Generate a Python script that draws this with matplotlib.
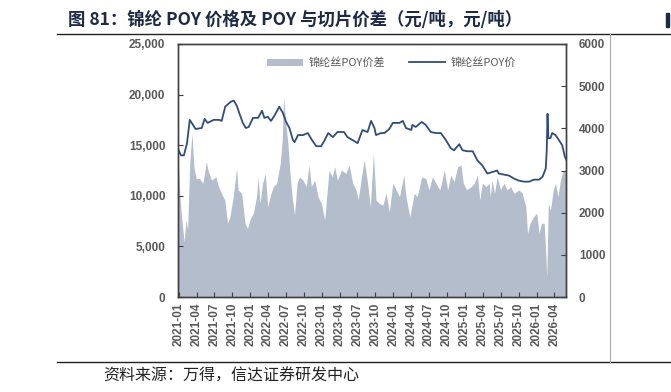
import matplotlib
matplotlib.use("Agg")
import matplotlib.pyplot as plt
import matplotlib.dates as mdates
from matplotlib.ticker import FuncFormatter, MultipleLocator
import pandas as pd

# 锦纶丝POY价 (左轴, 元/吨)
price_dates = [
    "2020-12-28", "2021-01-11", "2021-01-26", "2021-02-11", "2021-02-25", "2021-03-27",
    "2021-04-27", "2021-05-12", "2021-05-27", "2021-06-27", "2021-07-25", "2021-08-07",
    "2021-08-25", "2021-09-23", "2021-10-08", "2021-10-23", "2021-11-08", "2021-11-23",
    "2021-12-08", "2021-12-23", "2022-01-14", "2022-02-09", "2022-03-01", "2022-03-13",
    "2022-03-30", "2022-04-16", "2022-05-03", "2022-05-28", "2022-06-15", "2022-07-02",
    "2022-07-19", "2022-08-06", "2022-08-14", "2022-09-01", "2022-09-26", "2022-10-21",
    "2022-11-08", "2022-12-03", "2022-12-28", "2023-01-15", "2023-02-02", "2023-02-26",
    "2023-03-21", "2023-04-24", "2023-05-11", "2023-06-07", "2023-07-02", "2023-07-27",
    "2023-08-22", "2023-09-09", "2023-09-26", "2023-10-04", "2023-10-30", "2023-11-16",
    "2023-12-11", "2023-12-29", "2024-02-01", "2024-02-18", "2024-03-05", "2024-04-01",
    "2024-04-07", "2024-04-24", "2024-05-25", "2024-06-14", "2024-07-10", "2024-08-05",
    "2024-08-30", "2024-09-25", "2024-10-20", "2024-11-06", "2024-12-02", "2024-12-19",
    "2025-01-14", "2025-02-09", "2025-03-05", "2025-03-30", "2025-04-25", "2025-05-28",
    "2025-06-14", "2025-06-22", "2025-07-18", "2025-08-13", "2025-09-08", "2025-10-03",
    "2025-10-29", "2025-11-24", "2025-12-19", "2026-01-14", "2026-02-01", "2026-02-17",
    "2026-02-22", "2026-02-26", "2026-03-02", "2026-03-13", "2026-03-22", "2026-04-08",
    "2026-04-25", "2026-05-12", "2026-05-25", "2026-06-01",
]
price = [
    14600, 14000, 14000, 15200, 17500, 16600,
    16700, 17600, 17200, 17500, 17500, 17400,
    18800, 19300, 19400, 18900, 18000, 17200,
    16700, 16800, 17700, 17700, 18400, 17700,
    17800, 17400, 17900, 18800, 18200, 17300,
    16700, 15500, 15300, 16000, 16000, 16200,
    15600, 14900, 14900, 15500, 16200, 15800,
    16300, 16300, 15800, 15500, 15200, 16500,
    16300, 17400, 16700, 16000, 16200, 16200,
    16600, 17200, 17200, 17400, 16700, 16500,
    17000, 16800, 17300, 17000, 16300, 16200,
    16200, 15500, 14700, 14500, 15100, 14500,
    14400, 14400, 13500, 13000, 12200, 12400,
    12500, 12200, 12100, 12000, 11700, 11500,
    11400, 11400, 11600, 11600, 11900, 12700,
    14500, 18100, 15700, 15700, 16200, 16000,
    15500, 15000, 13900, 13600,
]

# 锦纶丝POY价差 (右轴, 元/吨)
spread_dates = [
    "2020-12-28", "2021-01-07", "2021-01-14", "2021-01-27", "2021-02-06", "2021-02-14",
    "2021-02-25", "2021-03-08", "2021-03-18", "2021-03-30", "2021-04-16", "2021-05-03",
    "2021-05-21", "2021-05-29", "2021-06-16", "2021-07-08", "2021-07-19", "2021-08-06",
    "2021-08-23", "2021-09-06", "2021-09-18", "2021-10-05", "2021-10-22", "2021-10-30",
    "2021-11-17", "2021-12-04", "2021-12-17", "2021-12-29", "2022-01-16", "2022-02-01",
    "2022-02-09", "2022-02-19", "2022-03-04", "2022-03-18", "2022-03-30", "2022-04-16",
    "2022-04-28", "2022-05-15", "2022-06-02", "2022-06-12", "2022-06-19", "2022-06-29",
    "2022-07-11", "2022-07-22", "2022-08-02", "2022-08-14", "2022-08-27", "2022-09-09",
    "2022-09-26", "2022-10-13", "2022-10-27", "2022-11-08", "2022-11-25", "2022-12-12",
    "2022-12-29", "2023-01-15", "2023-01-27", "2023-02-06", "2023-02-22", "2023-03-07",
    "2023-03-21", "2023-04-11", "2023-05-03", "2023-05-20", "2023-06-07", "2023-06-24",
    "2023-07-05", "2023-07-22", "2023-08-05", "2023-08-22", "2023-09-05", "2023-09-21",
    "2023-10-04", "2023-10-21", "2023-11-08", "2023-11-25", "2023-12-11", "2023-12-29",
    "2024-01-15", "2024-02-01", "2024-02-23", "2024-03-05", "2024-03-25", "2024-04-16",
    "2024-05-02", "2024-05-24", "2024-06-14", "2024-07-01", "2024-07-18", "2024-08-05",
    "2024-08-25", "2024-09-17", "2024-10-04", "2024-10-20", "2024-11-06", "2024-11-24",
    "2024-12-11", "2024-12-23", "2025-01-09", "2025-02-01", "2025-02-17", "2025-03-05",
    "2025-03-17", "2025-03-30", "2025-04-17", "2025-05-04", "2025-05-10", "2025-05-19",
    "2025-05-31", "2025-06-14", "2025-07-01", "2025-07-18", "2025-08-04", "2025-08-21",
    "2025-09-08", "2025-10-03", "2025-10-20", "2025-11-07", "2025-11-16", "2025-11-29",
    "2025-12-16", "2026-01-02", "2026-01-14", "2026-01-26", "2026-02-09", "2026-02-17",
    "2026-02-22", "2026-03-02", "2026-03-13", "2026-03-27", "2026-04-08", "2026-04-20",
    "2026-05-03", "2026-05-17", "2026-06-01",
]
spread = [
    3210, 2300, 1900, 1310, 1830, 1590,
    3180, 3880, 3090, 2810, 2810, 2700,
    3210, 3010, 2770, 2850, 2660, 2460,
    2300, 1750, 1900, 2380, 3050, 2540,
    2460, 1750, 1630, 1830, 1990, 2380,
    2850, 2220, 2700, 2930, 2140, 2460,
    2620, 2700, 3170, 3720, 4750, 4200,
    3650, 2930, 2380, 1950, 2700, 2850,
    2770, 2620, 3130, 2620, 2770, 2380,
    2220, 1830, 2460, 3010, 2850, 3090,
    2770, 3010, 2930, 3130, 2700, 2540,
    2300, 2850, 3250, 2700, 2140, 3410,
    2300, 2220, 2180, 2460, 2020, 2700,
    2540, 2380, 2890, 2380, 1900, 2460,
    2380, 2850, 2810, 2540, 2850, 2700,
    2540, 3010, 2540, 2890, 2730, 3090,
    3130, 2700, 2540, 2620, 2700, 2890,
    2300, 2700, 2620, 2700, 2380, 2770,
    2460, 2850, 2540, 2700, 2540, 2620,
    2460, 2540, 2460, 2140, 1510, 1750,
    1900, 1990, 1510, 1750, 1750, 1040,
    480, 2220, 2060, 2540, 2700, 2380,
    2770, 3010, 2930,
]

title = "图 81：锦纶 POY 价格及 POY 与切片价差（元/吨，元/吨）"
source = "资料来源：万得，信达证券研发中心"
cjk = ["Noto Sans CJK SC", "DejaVu Sans"]
tick_grey = "#595959"

fig = plt.figure(figsize=(6.71, 3.92), dpi=100)
ax = fig.add_axes([0.265, 0.242, 0.579, 0.646])
ax2 = ax.twinx()
ax.set_zorder(ax2.get_zorder() + 1)
ax.patch.set_visible(False)

sd = pd.to_datetime(spread_dates)
pdts = pd.to_datetime(price_dates)
ax2.fill_between(sd, 0, spread, color="#B3BDCC", linewidth=0, label="锦纶丝POY价差")
ax.plot(pdts, price, color="#2E4D7E", lw=1.3, label="锦纶丝POY价")

ax.set_xlim(pd.Timestamp("2020-12-26"), pd.Timestamp("2026-06-02"))
ax.set_ylim(0, 25000)
ax2.set_ylim(0, 6000)
ax.yaxis.set_major_locator(MultipleLocator(5000))
ax2.yaxis.set_major_locator(MultipleLocator(1000))
ax.yaxis.set_major_formatter(FuncFormatter(lambda v, p: f"{v:,.0f}"))
ax.xaxis.set_major_locator(mdates.MonthLocator(bymonth=[1, 4, 7, 10]))
ax.xaxis.set_major_formatter(mdates.DateFormatter("%Y-%m"))

for a in (ax, ax2):
    a.tick_params(direction="in", length=3.5, width=0.8, colors="#404040",
                  labelcolor=tick_grey, labelsize=8.5)
    for s in a.spines.values():
        s.set_color("#404040")
        s.set_linewidth(1.0)
ax.tick_params(axis="x", pad=4)
ax.tick_params(axis="y", pad=9)
ax2.tick_params(axis="y", pad=9)
for lab in ax.get_xticklabels():
    lab.set_rotation(90)
for lab in ax.get_xticklabels() + ax.get_yticklabels() + ax2.get_yticklabels():
    lab.set_fontweight("bold")
    lab.set_family(["Liberation Sans", "DejaVu Sans"])

h1, l1 = ax2.get_legend_handles_labels()
h2, l2 = ax.get_legend_handles_labels()
leg = ax.legend(h1 + h2, l1 + l2, loc="center", bbox_to_anchor=(0.55, 0.925), ncol=2,
                frameon=False, prop={"family": cjk, "size": 8}, handlelength=3.2,
                columnspacing=2.2, handletextpad=0.5)
for t in leg.get_texts():
    t.set_color(tick_grey)

fig.text(68 / 671, 1 - 20 / 392, title, fontsize=12.5, fontweight="bold", color="#1c2a48",
         family=cjk, va="center", ha="left")
fig.text(103 / 671, 1 - 376 / 392, source, fontsize=11.5, color="#222222",
         family=cjk, va="center", ha="left")

# edge of the next panel's title, cut off by the page
fig.add_artist(plt.Rectangle((666 / 671, 1 - 27 / 392), 3 / 671, 14 / 392,
                             color="#1c2a48", transform=fig.transFigure))
fig.add_artist(plt.Line2D([57 / 671, 1], [1 - 34 / 392] * 2, color="#222222", lw=1.0))
fig.add_artist(plt.Line2D([57 / 671, 1], [1 - 362 / 392] * 2, color="#222222", lw=1.0))
fig.add_artist(plt.Line2D([610 / 671] * 2, [1 - 34 / 392, 1 - 362 / 392], color="#aaaaaa", lw=0.8))

fig.savefig("out.png", dpi=100)
